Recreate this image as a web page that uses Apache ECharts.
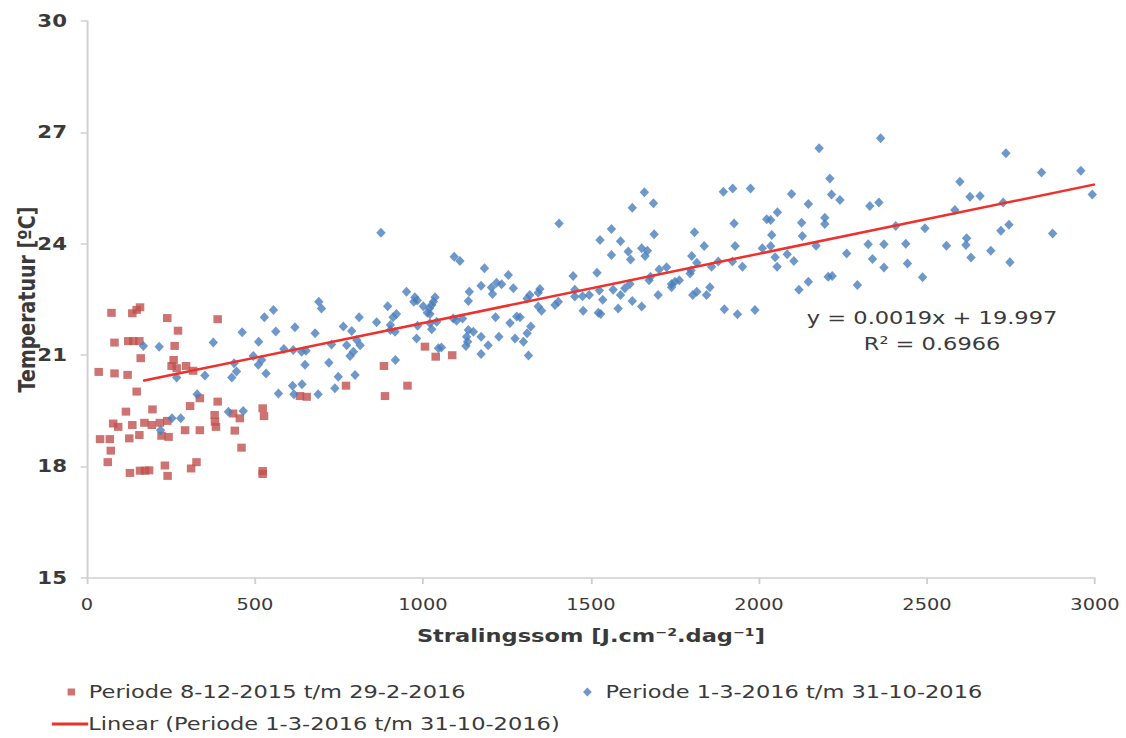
<!DOCTYPE html>
<html>
<head>
<meta charset="utf-8">
<script src="https://cdn.jsdelivr.net/npm/echarts@6/dist/echarts.min.js"></script>
<style>
html,body{margin:0;padding:0;background:#fff;overflow:hidden;width:1126px;height:738px}
#c{width:900px;height:738px;transform:scaleX(1.2511);transform-origin:0 0}
</style>
</head>
<body>
<div id="c"></div>
<script>
const xTicks = [0, 500, 1000, 1500, 2000, 2500, 3000];
const yTicks = [15, 18, 21, 24, 27, 30];

const seriesNames = [
  'Periode 8-12-2015 t/m 29-2-2016',
  'Periode 1-3-2016 t/m 31-10-2016',
  'Linear (Periode 1-3-2016 t/m 31-10-2016)'
];

const winterPoints = [
  [73,22.14],[135,22.13],[148,22.22],[158,22.29],[239,22.0],[389,21.97],[271,21.66],[82,21.34],[123,21.38],[138,21.38],
  [156,21.38],[261,21.25],[160,20.92],[258,20.87],[252,20.71],[267,20.65],[295,20.71],[316,20.58],[35,20.55],[82,20.51],
  [121,20.47],[148,20.02],[336,19.84],[389,19.75],[307,19.63],[195,19.54],[116,19.48],[78,19.16],[93,19.07],[135,19.12],
  [171,19.18],[193,19.12],[217,19.18],[239,19.23],[380,19.39],[381,19.21],[384,19.07],[435,19.43],[455,19.30],[523,19.57],
  [527,19.36],[292,18.98],[336,18.98],[440,18.97],[156,18.85],[126,18.76],[39,18.74],[68,18.74],[222,18.83],[243,18.80],
  [71,18.43],[460,18.51],[62,18.12],[232,18.03],[310,17.95],[326,18.12],[128,17.83],[158,17.89],[173,17.89],[185,17.9],
  [240,17.75],[523,17.88],[523,17.8],[634,19.9],[654,19.88],[771,20.18],[884,20.71],[887,19.90],[954,20.18],[1006,21.23],
  [1038,20.96],[1087,21.0]
];

const summerPoints = [
  [168,21.25],[215,21.23],[376,21.34],[462,21.62],[528,22.02],[555,22.22],[511,21.36],[562,21.64],[619,21.75],[679,21.59],
  [690,22.44],[698,22.26],[586,21.17],[614,21.14],[639,21.09],[652,21.12],[495,20.98],[520,20.87],[510,20.74],[438,20.78],
  [445,20.56],[431,20.40],[533,20.51],[351,20.45],[267,20.40],[649,20.74],[720,20.80],[612,20.18],[640,20.22],[570,19.97],
  [616,19.95],[688,19.95],[328,19.95],[421,19.48],[465,19.50],[253,19.30],[279,19.30],[219,18.98],
  [951,22.71],[976,22.56],[983,22.47],[973,22.44],[1036,22.56],[1031,22.44],[1026,22.35],[1019,22.26],[1013,22.14],[1021,22.11],
  [1001,22.32],[1138,22.71],[1135,22.46],[1207,22.65],[1318,22.62],[1310,22.53],[1343,22.68],[1348,22.78],
  [1393,22.35],[1403,22.44],[1343,22.31],[1353,22.20],[895,22.32],[921,22.11],[911,22.02],[903,21.81],[810,22.02],[862,21.89],
  [763,21.77],[788,21.65],[917,21.63],[903,21.68],[984,21.79],[1021,21.86],[1026,21.70],[1041,21.90],[1090,21.99],[1100,21.93],
  [1118,21.99],[1216,22.02],[1259,21.87],[1279,22.04],[1289,22.02],[1321,21.77],[1310,21.59],[1135,21.68],[1150,21.63],[1130,21.50],
  [1133,21.36],[1128,21.25],[1173,21.50],[1194,21.27],[1173,21.03],[1226,21.50],[1274,21.45],[1299,21.36],[1314,20.99],[981,21.45],
  [728,21.29],[773,21.27],[813,21.27],[803,21.41],[793,21.09],[783,20.98],[748,20.42],[738,20.11],[798,20.47],[918,20.87],
  [1046,21.19],[1055,21.21],
  [875,24.30],[1093,23.65],[1110,23.54],[1183,23.34],[1254,23.16],[1405,24.55],[1173,22.87],[1204,22.82],[1219,22.95],[1234,22.91],
  [1269,22.80],
  [1688,24.26],[1808,24.31],[1527,24.10],[1588,24.07],[1561,23.70],[1611,23.79],[1618,23.58],[1651,23.88],[1668,23.81],
  [1661,23.67],[1837,23.94],[1929,23.94],[1800,23.67],[1815,23.49],[1859,23.38],[1879,23.52],[1921,23.52],[1951,23.38],[2010,23.88],
  [2035,23.94],[2038,24.24],[2048,23.64],[2054,23.38],[2084,23.72],[2104,23.54],[2129,24.21],[1447,23.13],[1518,23.22],[1452,22.76],
  [1452,22.58],[1475,22.59],[1495,22.62],[1525,22.74],[1477,22.20],[1535,22.49],[1522,22.14],[1529,22.11],[1566,22.76],[1588,22.62],
  [1601,22.80],[1616,22.92],[1581,22.26],[1623,22.46],[1651,22.31],[1673,23.02],[1677,23.11],[1703,23.31],[1725,23.37],[1700,22.62],
  [1740,22.92],[1750,22.98],[1763,23.02],[1740,22.83],[1795,23.20],[1798,23.28],[1803,22.62],[1815,22.71],[1844,22.62],[1854,22.83],
  [1897,22.24],[1936,22.10],[1988,22.22],[2119,22.76],[2147,22.98],
  [1659,25.39],[1686,25.09],[1623,24.97],[1894,25.40],[1922,25.49],[1975,25.49],[2097,25.34],[2147,25.07],[2055,24.85],[2023,24.66],
  [2035,24.64],[2127,24.57],[1561,24.40],[1926,24.55],
  [2211,25.76],[2216,25.33],[2241,25.18],[2196,24.70],[2196,24.53],[2170,23.95],[2261,23.74],[2330,25.02],[2357,25.11],[2407,24.48],
  [2325,23.99],[2372,23.99],[2338,23.59],[2372,23.36],[2437,24.0],[2442,23.47],[2494,24.42],[2487,23.10],[2293,22.89],[2206,23.11],
  [2218,23.13],[2558,23.95],[2598,25.67],[2628,25.27],[2658,25.29],[2583,24.91],[2618,24.15],[2616,23.97],[2631,23.63],[2690,23.81],
  [2720,24.35],[2744,24.51],[2727,25.11],[2747,23.50],[2841,25.92],[2874,24.28],[2958,25.97],[2992,25.33],[2735,26.44],
  [2179,26.57],[2362,26.84]
];

const trendPoints = [[167, 20.31], [3000, 25.60]];
const equationLines = ['y = 0.0019x + 19.997', 'R² = 0.6966'];

const FONT = '"DejaVu Sans", Verdana, sans-serif';
const TXT = '#3a3a3a';

const chart = echarts.init(document.getElementById('c'), null, {renderer: 'svg'});
chart.setOption({
  animation: false,
  backgroundColor: '#ffffff',
  grid: {left: 69.5, right: 24.8, top: 21, bottom: 160, containLabel: false, outerBoundsMode: 'none'},
  xAxis: {
    type: 'value', min: xTicks[0], max: xTicks[xTicks.length - 1], interval: 500,
    name: 'Stralingssom [J.cm⁻².dag⁻¹]', nameLocation: 'middle', nameGap: 49, nameMoveOverlap: false,
    nameTextStyle: {fontFamily: FONT, fontSize: 18, fontWeight: 'bold', color: TXT},
    axisLine: {show: true, onZero: false, lineStyle: {color: '#cfcfcf', width: 1.5}},
    axisTick: {show: true, length: 6, lineStyle: {color: '#cfcfcf', width: 1.5}},
    axisLabel: {fontFamily: FONT, fontSize: 15.5, color: TXT, margin: 19, formatter: v => String(v)},
    splitLine: {show: false}
  },
  yAxis: {
    type: 'value', min: yTicks[0], max: yTicks[yTicks.length - 1], interval: 3,
    name: 'Temperatuur [ºC]', nameLocation: 'middle', nameGap: 39, nameRotate: 90, nameMoveOverlap: false,
    nameTextStyle: {fontFamily: FONT, fontSize: 19, fontWeight: 'bold', color: TXT},
    axisLine: {show: true, lineStyle: {color: '#cfcfcf', width: 1.5}},
    axisTick: {show: true, length: 5, lineStyle: {color: '#cfcfcf', width: 1.5}},
    axisLabel: {fontFamily: FONT, fontSize: 17, fontWeight: 'bold', color: TXT, margin: 16},
    splitLine: {show: false}
  },
  legend: [
    {data: [{name: seriesNames[0], icon: 'rect'}], left: 54, top: 683, padding: 0, itemWidth: 6, itemHeight: 7,
     textStyle: {fontFamily: FONT, fontSize: 18, color: TXT, padding: [0,0,0,6]}},
    {data: [{name: seriesNames[1], icon: 'diamond'}], left: 466, top: 683, padding: 0, itemWidth: 7, itemHeight: 9,
     textStyle: {fontFamily: FONT, fontSize: 18, color: TXT, padding: [0,0,0,6]}},
    {data: [{name: seriesNames[2], icon: 'rect'}], left: 41.5, top: 715, padding: 0, itemWidth: 29, itemHeight: 3,
     textStyle: {fontFamily: FONT, fontSize: 18, color: TXT, padding: [0,0,0,-5]}}
  ],
  graphic: [
    {type: 'text', x: 745, y: 318, style: {text: equationLines[0], font: '18px ' + FONT, fill: TXT, align: 'center', verticalAlign: 'middle'}},
    {type: 'text', x: 745, y: 344, style: {text: equationLines[1], font: '18px ' + FONT, fill: TXT, align: 'center', verticalAlign: 'middle'}}
  ],
  series: [
    {name: seriesNames[0], type: 'scatter', data: winterPoints, symbol: 'rect', symbolSize: [6.8, 8],
     itemStyle: {color: '#c0504d'}, z: 2},
    {name: seriesNames[1], type: 'scatter', data: summerPoints, symbol: 'diamond', symbolSize: [7.5, 10],
     itemStyle: {color: '#4a7ebb'}, z: 3},
    {name: seriesNames[2], type: 'line', data: trendPoints, symbol: 'none', showSymbol: false,
     lineStyle: {color: '#f0302a', width: 2.5}, itemStyle: {color: '#f0302a'}, z: 4}
  ]
});
</script>
</body>
</html>
